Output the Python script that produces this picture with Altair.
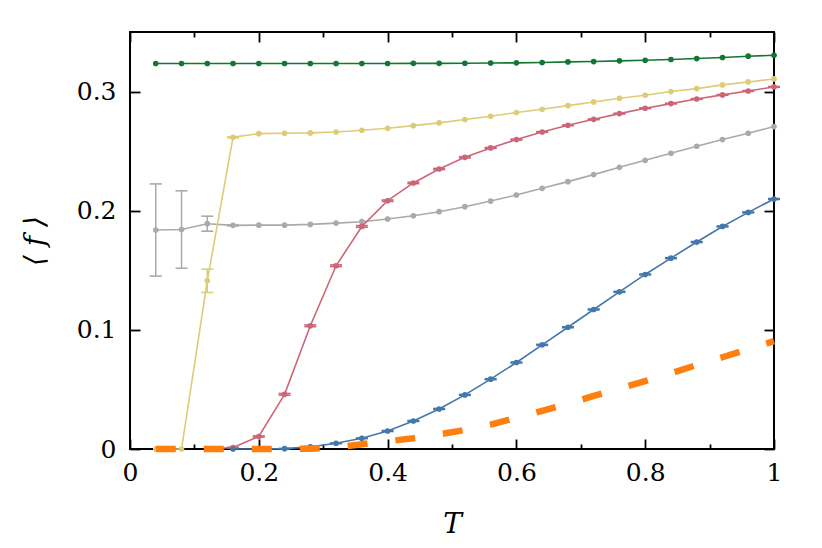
import altair as alt
import pandas as pd

# ---------------- data ----------------
T = [0.04, 0.08, 0.12, 0.16, 0.20, 0.24, 0.28, 0.32, 0.36, 0.40, 0.44, 0.48,
     0.52, 0.56, 0.60, 0.64, 0.68, 0.72, 0.76, 0.80, 0.84, 0.88, 0.92, 0.96, 1.00]

green = [0.3236, 0.3236, 0.3236, 0.3236, 0.3236, 0.3236, 0.3236, 0.3236, 0.3236, 0.3236, 0.3237, 0.3237,
         0.3238, 0.3240, 0.3241, 0.3244, 0.3249, 0.3252, 0.3258, 0.3263, 0.3269, 0.3277, 0.3286, 0.3297, 0.3305]
green_err = [0.0] * 25

gray = [0.1838, 0.1842, 0.1891, 0.1877, 0.1879, 0.1879, 0.1885, 0.1896, 0.1908, 0.1930, 0.1958, 0.1992,
        0.2034, 0.2081, 0.2132, 0.2188, 0.2244, 0.2303, 0.2364, 0.2423, 0.2482, 0.2541, 0.2597, 0.2650, 0.2706]
gray_err = [0.0387, 0.0325, 0.0063, 0.0004] + [0.0] * 21

yellow = [0.0, 0.0, 0.1412, 0.2616, 0.2647, 0.2650, 0.2653, 0.2661, 0.2675, 0.2692, 0.2714, 0.2737,
          0.2765, 0.2793, 0.2824, 0.2852, 0.2882, 0.2913, 0.2944, 0.2969, 0.3000, 0.3025, 0.3056, 0.3081, 0.3106]
yellow_err = [0.0, 0.0, 0.0098, 0.0004] + [0.0] * 21

red = [None, None, 0.0, 0.0012, 0.0105, 0.0459, 0.1034, 0.1538, 0.1868, 0.2084, 0.2233, 0.2350,
       0.2448, 0.2527, 0.2597, 0.2661, 0.2717, 0.2767, 0.2815, 0.2860, 0.2899, 0.2938, 0.2972, 0.3005, 0.3039]
red_err = [0.0, 0.0, 0.0, 0.0003, 0.0005, 0.0007, 0.0007, 0.0007, 0.0007, 0.0006, 0.0006, 0.0005,
           0.0005, 0.0004, 0.0004, 0.0003, 0.0003, 0.0003, 0.0003, 0.0003, 0.0003, 0.0003, 0.0003, 0.0003, 0.0003]

blue = [None, None, None, 0.0, 0.0, 0.0003, 0.0018, 0.0048, 0.0090, 0.0151, 0.0235, 0.0336,
        0.0454, 0.0586, 0.0726, 0.0874, 0.1022, 0.1171, 0.1319, 0.1465, 0.1602, 0.1737, 0.1868, 0.1986, 0.2098]
blue_err = [0.0, 0.0, 0.0, 0.0, 0.0, 0.0002, 0.0003, 0.0003, 0.0003, 0.0004, 0.0004, 0.0004,
            0.0004, 0.0004, 0.0004, 0.0004, 0.0004, 0.0004, 0.0004, 0.0004, 0.0004, 0.0004, 0.0004, 0.0004, 0.0004]

orange = [0.0, 0.0, 0.0, 0.0, 0.0, 0.0, 0.0003, 0.0012, 0.0040, 0.0065, 0.0090, 0.0122,
          0.0160, 0.0205, 0.0262, 0.0320, 0.0380, 0.0445, 0.0508, 0.0570, 0.0635, 0.0705, 0.0770, 0.0838, 0.0905]

x_major = [0, 0.2, 0.4, 0.6, 0.8, 1.0]
x_minor = [0.1, 0.3, 0.5, 0.7, 0.9]
y_major = [0, 0.1, 0.2, 0.3]

COLORS = {"green": "#117733", "gray": "#AAAAAA", "yellow": "#DDCC77",
          "red": "#CC6677", "blue": "#4477AA", "orange": "#FF7F0E"}

W, H = 644, 417
FONT = "DejaVu Serif"


def frame(vals, errs):
    rows = []
    for t, v, e in zip(T, vals, errs):
        if v is None:
            continue
        rows.append({"T": t, "f": v, "lo": v - e, "hi": v + e, "e": e})
    return pd.DataFrame(rows)


xs = alt.Scale(domain=[0, 1], nice=False, zero=False)
ys = alt.Scale(domain=[0, 0.35], nice=False, zero=False)


def X(field="T", axis=None):
    return alt.X(f"{field}:Q", scale=xs, axis=axis)


def Y(field="f", axis=None):
    return alt.Y(f"{field}:Q", scale=ys, axis=axis)


layers = []

# ---------- axis carrier layers (invisible) ----------
axdf = pd.DataFrame({"T": [0, 1], "f": [0, 0.35]})


def carrier(xaxis=None, yaxis=None):
    return alt.Chart(axdf).mark_point(opacity=0).encode(
        x=X(axis=xaxis), y=Y(axis=yaxis))


tick_common = dict(labels=False, domain=False, grid=False, ticks=True,
                   tickColor="black", tickWidth=1.8, title=None)

layers.append(carrier(
    xaxis=alt.Axis(orient="bottom", values=x_major, format="~g", ticks=False, tickSize=0,
                   domain=False, grid=False, labelFont=FONT, labelFontSize=25,
                   labelColor="black", labelPadding=11, labelFlush=False,
                   title="T", titleFont=FONT, titleFontSize=28, titleFontStyle="italic",
                   titleFontWeight="normal", titleColor="black", titlePadding=25),
    yaxis=alt.Axis(orient="left", values=y_major, format="~g", ticks=False, tickSize=0,
                   domain=False, grid=False, labelFont=FONT, labelFontSize=25,
                   labelColor="black", labelPadding=14, labelFlush=False,
                   title="⟨ f ⟩", titleFont=FONT, titleFontSize=28, titleFontStyle="italic",
                   titleFontWeight="normal", titleColor="black", titlePadding=27)))
# inward ticks: bottom edge
layers.append(carrier(xaxis=alt.Axis(orient="top", offset=-H, values=x_major, tickSize=10, **tick_common)))
layers.append(carrier(xaxis=alt.Axis(orient="top", offset=-H, values=x_minor, tickSize=5, **tick_common)))
# top edge
layers.append(carrier(xaxis=alt.Axis(orient="bottom", offset=-H, values=x_major, tickSize=10, **tick_common)))
layers.append(carrier(xaxis=alt.Axis(orient="bottom", offset=-H, values=x_minor, tickSize=5, **tick_common)))
# left edge
layers.append(carrier(yaxis=alt.Axis(orient="right", offset=-W, values=y_major, tickSize=10, **tick_common)))
# right edge
layers.append(carrier(yaxis=alt.Axis(orient="left", offset=-W, values=y_major, tickSize=10, **tick_common)))


def series(vals, errs, color):
    df = frame(vals, errs)
    dfe = df[df["e"] > 0]
    out = []
    if len(dfe):
        out.append(alt.Chart(dfe).mark_rule(color=color, strokeWidth=1.5).encode(
            x=X(), y=Y("lo"), y2="hi:Q"))
        for fld in ["lo", "hi"]:
            out.append(alt.Chart(dfe).mark_tick(orient="horizontal", color=color, size=12,
                                                thickness=1.6, opacity=1).encode(
                x=X(), y=Y(fld)))
    out.append(alt.Chart(df).mark_line(color=color, strokeWidth=1.6).encode(x=X(), y=Y()))
    out.append(alt.Chart(df).mark_circle(color=color, size=32, opacity=1).encode(x=X(), y=Y()))
    return out


layers += series(green, green_err, COLORS["green"])
layers += series(gray, gray_err, COLORS["gray"])
layers += series(yellow, yellow_err, COLORS["yellow"])
layers += series(red, red_err, COLORS["red"])
layers += series(blue, blue_err, COLORS["blue"])

odf = pd.DataFrame({"T": T, "f": orange})
layers.append(alt.Chart(odf).mark_line(color=COLORS["orange"], strokeWidth=6.5,
                                       strokeDash=[20, 28], strokeCap="butt").encode(x=X(), y=Y()))

chart = alt.layer(*layers).resolve_axis(x="independent", y="independent").properties(
    width=W, height=H,
    autosize=alt.AutoSizeParams(type="none"),
    padding={"left": 122, "top": 24, "right": 40, "bottom": 91},
    background="white",
).configure_view(stroke="black", strokeWidth=2)

chart.save("out.html", embed_options={"renderer": "svg", "actions": False})
